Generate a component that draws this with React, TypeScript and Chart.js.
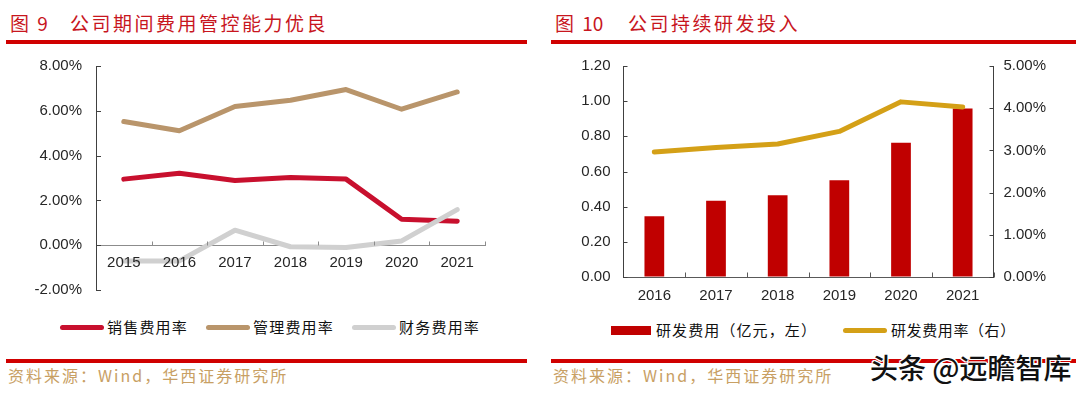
import React, { useEffect, useRef } from 'react';
import { Chart, registerables } from 'chart.js';

Chart.register(...registerables);

// ---------- Data: left chart (图 9) ----------
const leftYears = ['2015', '2016', '2017', '2018', '2019', '2020', '2021'];
const salesRate = [2.95, 3.21, 2.89, 3.02, 2.95, 1.16, 1.07];
const adminRate = [5.52, 5.11, 6.19, 6.47, 6.95, 6.07, 6.84];
const financeRate = [-0.7, -0.7, 0.67, -0.07, -0.1, 0.19, 1.59];
const leftSeriesNames = ['销售费用率', '管理费用率', '财务费用率'];
const leftColors = ['#C8102E', '#B9956B', '#D0D0D0'];
const leftAxisMin = -2;
const leftAxisMax = 8;
const leftAxisStep = 2;

// ---------- Data: right chart (图 10) ----------
const rightYears = ['2016', '2017', '2018', '2019', '2020', '2021'];
const rdExpense = [0.345, 0.434, 0.465, 0.55, 0.764, 0.958];
const rdRate = [2.96, 3.07, 3.15, 3.45, 4.15, 4.03];
const rightSeriesNames = ['研发费用（亿元，左）', '研发费用率（右）'];
const rightColors = ['#C00000', '#D4A017'];
const rightLeftAxis = { min: 0, max: 1.2, step: 0.2 };
const rightRightAxis = { min: 0, max: 5, step: 1 };

// ---------- Text ----------
const leftTitleNo = '图 9';
const leftTitle = '公司期间费用管控能力优良';
const rightTitleNo = '图 10';
const rightTitle = '公司持续研发投入';
const sourceText = '资料来源：Wind，华西证券研究所';
const watermark = '头条 @远瞻智库';

const TICK_FONT = { family: '"Liberation Sans", Arial, sans-serif', size: 15 };
const TICK_COLOR = '#262626';
const CJK = '"Noto Sans CJK SC", sans-serif';

// Plugin: small inward tick marks on axes
const innerTicks = {
  id: 'innerTicks',
  afterDraw(chart: any, _args: any, opts: any) {
    const ctx = chart.ctx;
    const specs = (opts && opts.specs) || [];
    ctx.save();
    ctx.lineWidth = 1;
    for (const s of specs) {
      const scale = chart.scales[s.id];
      if (!scale) continue;
      ctx.strokeStyle = s.color;
      ctx.beginPath();
      if (s.kind === 'yleft' || s.kind === 'yright') {
        const x = s.kind === 'yleft' ? scale.right : scale.left;
        const dir = s.kind === 'yleft' ? 1 : -1;
        scale.ticks.forEach((_t: any, i: number) => {
          const y = Math.round(scale.getPixelForTick(i)) + 0.5;
          ctx.moveTo(x, y);
          ctx.lineTo(x + dir * s.len, y);
        });
      } else {
        const n = scale.ticks.length;
        const y =
          s.at === 'zero'
            ? Math.round(chart.scales[s.ref].getPixelForValue(0)) + 0.5
            : Math.round(scale.top) + 0.5;
        for (let i = 1; i <= n; i++) {
          const x = Math.round(scale.left + (i * scale.width) / n) + 0.5;
          ctx.moveTo(x, y);
          ctx.lineTo(x, y - s.len);
        }
      }
      ctx.stroke();
    }
    ctx.restore();
  },
};

const lineStyle = {
  borderWidth: 5,
  pointRadius: 0,
  pointHoverRadius: 0,
  tension: 0,
  fill: false,
  borderCapStyle: 'round' as const,
  borderJoinStyle: 'round' as const,
};

const fixY = (w: number) => (s: any) => {
  s.width = w;
  s.paddingTop = 0;
  s.paddingBottom = 0;
};
const fixX = (h: number) => (s: any) => {
  s.height = h;
  s.paddingLeft = 0;
  s.paddingRight = 0;
};

function LeftChart() {
  const ref = useRef<HTMLCanvasElement>(null);
  useEffect(() => {
    const chart = new Chart(ref.current as HTMLCanvasElement, {
      type: 'line',
      data: {
        labels: leftYears,
        datasets: [
          { ...lineStyle, label: leftSeriesNames[0], data: salesRate, borderColor: leftColors[0], backgroundColor: leftColors[0], order: 3 },
          { ...lineStyle, label: leftSeriesNames[1], data: adminRate, borderColor: leftColors[1], backgroundColor: leftColors[1], order: 2 },
          { ...lineStyle, label: leftSeriesNames[2], data: financeRate, borderColor: leftColors[2], backgroundColor: leftColors[2], order: 1 },
        ],
      },
      plugins: [innerTicks],
      options: {
        animation: false,
        responsive: false,
        maintainAspectRatio: false,
        layout: { padding: { top: 16, bottom: 10, left: 0, right: 55 } },
        plugins: {
          legend: { display: false },
          tooltip: { enabled: false },
          innerTicks: {
            specs: [
              { id: 'y', kind: 'yleft', len: 5, color: '#404040' },
              { id: 'x', kind: 'x', at: 'zero', ref: 'y', len: 4, color: '#8C8C8C' },
            ],
          },
        } as any,
        scales: {
          x: {
            type: 'category',
            position: { y: 0 } as any,
            offset: true,
            grid: { display: true, drawOnChartArea: false, drawTicks: false, offset: true },
            border: { display: true, color: '#8C8C8C', width: 1 },
            ticks: { font: TICK_FONT, color: TICK_COLOR, padding: 9, autoSkip: false, maxRotation: 0, z: 1 } as any,
            afterFit: fixX(0),
          },
          y: {
            type: 'linear',
            position: 'left',
            min: leftAxisMin,
            max: leftAxisMax,
            grid: { display: true, drawOnChartArea: false, drawTicks: false },
            border: { display: true, color: '#404040', width: 1 },
            ticks: {
              stepSize: leftAxisStep,
              font: TICK_FONT,
              color: TICK_COLOR,
              padding: 14,
              callback: (v: any) => Number(v).toFixed(2) + '%',
            },
            afterFit: fixY(96),
          },
        },
      },
    });
    return () => chart.destroy();
  }, []);
  return <canvas ref={ref} width={540} height={250} style={{ position: 'absolute', left: 0, top: 50 }} />;
}

function RightChart() {
  const ref = useRef<HTMLCanvasElement>(null);
  useEffect(() => {
    const chart = new Chart(ref.current as HTMLCanvasElement, {
      type: 'bar',
      data: {
        labels: rightYears,
        datasets: [
          {
            type: 'line',
            ...lineStyle,
            label: rightSeriesNames[1],
            data: rdRate,
            borderColor: rightColors[1],
            backgroundColor: rightColors[1],
            yAxisID: 'y1',
            order: 0,
          } as any,
          {
            type: 'bar',
            label: rightSeriesNames[0],
            data: rdExpense,
            backgroundColor: rightColors[0],
            borderWidth: 0,
            barPercentage: 0.32,
            categoryPercentage: 1,
            yAxisID: 'y',
            order: 1,
          },
        ],
      },
      plugins: [innerTicks],
      options: {
        animation: false,
        responsive: false,
        maintainAspectRatio: false,
        layout: { padding: { top: 16, bottom: 0, left: 0, right: 0 } },
        plugins: {
          legend: { display: false },
          tooltip: { enabled: false },
          innerTicks: {
            specs: [
              { id: 'y', kind: 'yleft', len: 4, color: '#404040' },
              { id: 'y1', kind: 'yright', len: 4, color: '#404040' },
              { id: 'x', kind: 'x', at: 'top', len: 5, color: '#595959' },
            ],
          },
        } as any,
        scales: {
          x: {
            type: 'category',
            position: 'bottom',
            offset: true,
            grid: { display: true, drawOnChartArea: false, drawTicks: false, offset: true },
            border: { display: true, color: '#595959', width: 1 },
            ticks: { font: TICK_FONT, color: TICK_COLOR, padding: 10, autoSkip: false, maxRotation: 0 },
            afterFit: fixX(23),
          },
          y: {
            type: 'linear',
            position: 'left',
            min: rightLeftAxis.min,
            max: rightLeftAxis.max,
            grid: { display: true, drawOnChartArea: false, drawTicks: false },
            border: { display: true, color: '#404040', width: 1 },
            ticks: {
              stepSize: rightLeftAxis.step,
              font: TICK_FONT,
              color: TICK_COLOR,
              padding: 13,
              callback: (v: any) => Number(v).toFixed(2),
            },
            afterFit: fixY(83.5),
          },
          y1: {
            type: 'linear',
            position: 'right',
            min: rightRightAxis.min,
            max: rightRightAxis.max,
            grid: { display: true, drawOnChartArea: false, drawTicks: false },
            border: { display: true, color: '#404040', width: 1 },
            ticks: {
              stepSize: rightRightAxis.step,
              font: TICK_FONT,
              color: TICK_COLOR,
              padding: 10,
              callback: (v: any) => Number(v).toFixed(2) + '%',
            },
            afterFit: fixY(86.5),
          },
        },
      },
    });
    return () => chart.destroy();
  }, []);
  return <canvas ref={ref} width={540} height={250} style={{ position: 'absolute', left: 540, top: 50 }} />;
}

const abs = (o: React.CSSProperties): React.CSSProperties => ({ position: 'absolute', ...o });

const titleStyle: React.CSSProperties = {
  fontFamily: CJK,
  fontSize: 19,
  lineHeight: '22px',
  color: '#C8161E',
  whiteSpace: 'pre',
};

const legendText: React.CSSProperties = {
  fontFamily: CJK,
  fontSize: 15,
  lineHeight: '20px',
  color: '#111',
  whiteSpace: 'nowrap',
};

export default function App() {
  return (
    <div
      style={{
        position: 'fixed',
        left: 0,
        top: 0,
        width: 1080,
        height: 395,
        background: '#fff',
        overflow: 'hidden',
      }}
    >
      {/* Titles */}
      <div style={abs({ ...titleStyle, left: 10, top: 12, wordSpacing: 4 })}>{leftTitleNo}</div>
      <div style={abs({ ...titleStyle, left: 70, top: 12, letterSpacing: 2.5 })}>{leftTitle}</div>
      <div style={abs({ ...titleStyle, left: 555, top: 12, wordSpacing: 4 })}>{rightTitleNo}</div>
      <div style={abs({ ...titleStyle, left: 628, top: 12, letterSpacing: 2.5 })}>{rightTitle}</div>

      {/* Title rules */}
      <div style={abs({ left: 6, top: 40, width: 521, height: 4, background: '#D00000' })} />
      <div style={abs({ left: 551, top: 40, width: 525, height: 4, background: '#D00000' })} />

      <LeftChart />
      <RightChart />

      {/* Left legend */}
      <div style={abs({ left: 60, top: 317, height: 20, display: 'flex', alignItems: 'center' })}>
        {leftSeriesNames.map((name, i) => (
          <div key={name} style={{ display: 'flex', alignItems: 'center', marginRight: 18 }}>
            <div style={{ width: 44, height: 5, borderRadius: 2.5, background: leftColors[i], marginRight: 3 }} />
            <span style={{ ...legendText, letterSpacing: 1.2 }}>{name}</span>
          </div>
        ))}
      </div>

      {/* Right legend */}
      <div style={abs({ left: 611, top: 320, height: 20, display: 'flex', alignItems: 'center' })}>
        <div style={{ width: 40, height: 9, background: rightColors[0], marginRight: 5 }} />
        <span style={{ ...legendText, letterSpacing: 1.1, marginRight: 26 }}>{rightSeriesNames[0]}</span>
        <div style={{ width: 44, height: 5, borderRadius: 2.5, background: rightColors[1], marginRight: 4 }} />
        <span style={{ ...legendText, letterSpacing: 0.6 }}>{rightSeriesNames[1]}</span>
      </div>

      {/* Bottom rules */}
      <div style={abs({ left: 6, top: 359, width: 521, height: 4, background: '#D00000' })} />
      <div style={abs({ left: 551, top: 359, width: 525, height: 4, background: '#D00000' })} />

      {/* Sources */}
      <div style={abs({ left: 8, top: 365, fontFamily: CJK, fontSize: 16, lineHeight: '20px', letterSpacing: 2, color: '#C8A064', whiteSpace: 'nowrap' })}>
        {sourceText}
      </div>
      <div style={abs({ left: 553, top: 365, fontFamily: CJK, fontSize: 16, lineHeight: '20px', letterSpacing: 2, color: '#C8A064', whiteSpace: 'nowrap' })}>
        {sourceText}
      </div>

      {/* Watermark */}
      <div
        style={abs({
          left: 870,
          top: 350,
          fontFamily: CJK,
          fontSize: 28,
          lineHeight: '34px',
          fontWeight: 500,
          color: '#111',
          whiteSpace: 'nowrap',
          textShadow:
            '1px 0 0 #fff, -1px 0 0 #fff, 0 1px 0 #fff, 0 -1px 0 #fff, 1px 1px 0 #fff, -1px -1px 0 #fff, 1px -1px 0 #fff, -1px 1px 0 #fff',
        })}
      >
        {watermark}
      </div>
    </div>
  );
}
